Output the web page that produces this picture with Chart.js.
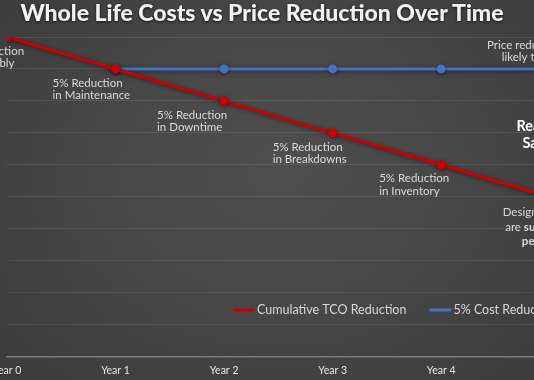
<!DOCTYPE html>
<html>
<head>
<meta charset="utf-8">
<script src="https://cdn.jsdelivr.net/npm/chart.js@4.4.0/dist/chart.umd.min.js"></script>
<style>
html, body { margin: 0; padding: 0; }
body {
    width: 534px; height: 380px; overflow: hidden; position: relative;
    background: radial-gradient(ellipse 75% 85% at 52% 45%, #4e4e4e 0%, #474747 45%, #3a3a3a 100%);
    font-family: Lato, sans-serif;
}
#title {
    position: absolute; top: -1px; left: 0; width: 524px; text-align: center;
    color: #f2f2f2; font-weight: 900; font-size: 23px; line-height: 26px;
    text-shadow: 0 1px 3px rgba(0,0,0,0.7);
    z-index: 2;
}
#wrap { position: absolute; left: -100px; top: 0; width: 734px; height: 388px; }
</style>
</head>
<body>
<div id="title">Whole Life Costs vs Price Reduction Over Time</div>
<div id="wrap"><canvas id="chart"></canvas></div>
<script>
// données
var years = ['Year 0', 'Year 1', 'Year 2', 'Year 3', 'Year 4', 'Year 5'];
var tcoReduction = [10, 9, 8, 7, 6, 5];
var costReduction = [null, 9, 9, 9, 9, 9];
var seriesNames = ['Cumulative TCO Reduction', '5% Cost Reduction'];
var pointNotes = [
    ['5% Reduction', 'in Assembly'],
    ['5% Reduction', 'in Maintenance'],
    ['5% Reduction', 'in Downtime'],
    ['5% Reduction', 'in Breakdowns'],
    ['5% Reduction', 'in Inventory']
];
var priceNote = ['Price reduction gains', 'likely to be lost'];
var savingsNote = ['Real Cost', 'Savings'];
var designNote = ['Design efficiencies', 'are *sustained and*', '*permanent*'];

var RED = '#cc0000';
var BLUE = '#4472c4';

function toPoints(values) {
    return values.map(function(v, i) { return { x: i, y: v }; });
}

// ombre sous les lignes
var shadowPlugin = {
    id: 'shadow',
    beforeDatasetsDraw: function(chart) {
        var ctx = chart.ctx;
        ctx.save();
        ctx.shadowColor = 'rgba(0,0,0,0.5)';
        ctx.shadowBlur = 4;
        ctx.shadowOffsetY = 1;
    },
    afterDatasetsDraw: function(chart) {
        chart.ctx.restore();
    }
};

function drawRich(ctx, text, x, y, align, size) {
    // *texte* = gras
    var parts = text.split('*');
    var total = 0;
    parts.forEach(function(p, k) {
        ctx.font = (k % 2 ? 'bold ' : '') + size + 'px Lato';
        total += ctx.measureText(p).width;
    });
    var cx = align === 'center' ? x - total / 2 : x;
    ctx.textAlign = 'left';
    parts.forEach(function(p, k) {
        ctx.font = (k % 2 ? 'bold ' : '') + size + 'px Lato';
        ctx.fillText(p, cx, y);
        cx += ctx.measureText(p).width;
    });
}

var notesPlugin = {
    id: 'notes',
    afterDatasetsDraw: function(chart) {
        var ctx = chart.ctx;
        var xs = chart.scales.x, ys = chart.scales.y;
        var red = chart.getDatasetMeta(0).data;
        var blue = chart.getDatasetMeta(1).data;
        var dx = [-53, -63, -67, -60, -62];
        ctx.save();
        ctx.textBaseline = 'middle';
        ctx.fillStyle = '#dadada';
        pointNotes.forEach(function(lines, i) {
            var p = red[i];
            lines.forEach(function(t, k) {
                drawRich(ctx, t, p.x + dx[i], p.y + 14 + k * 12.5, 'left', 11.5);
            });
        });
        var b = blue[5];
        priceNote.forEach(function(t, k) {
            drawRich(ctx, t, b.x - 10, b.y - 24 + k * 12, 'center', 11.5);
        });
        ctx.fillStyle = '#ffffff';
        var sx = xs.getPixelForValue(5);
        savingsNote.forEach(function(t, k) {
            drawRich(ctx, '*' + t + '*', sx - 3, ys.getPixelForValue(7.2) + k * 17, 'center', 14.5);
        });
        ctx.fillStyle = '#dadada';
        designNote.forEach(function(t, k) {
            drawRich(ctx, t, sx, ys.getPixelForValue(4.5) + k * 14.5, 'center', 11.5);
        });
        ctx.restore();
    }
};

var legendPlugin = {
    id: 'innerLegend',
    afterDraw: function(chart) {
        var ctx = chart.ctx;
        var x = 333, y = 310;
        ctx.save();
        ctx.font = '12.5px Lato';
        ctx.textBaseline = 'middle';
        ctx.textAlign = 'left';
        chart.data.datasets.forEach(function(ds) {
            ctx.strokeStyle = ds.borderColor;
            ctx.lineWidth = 3;
            ctx.beginPath();
            ctx.moveTo(x, y);
            ctx.lineTo(x + 22, y);
            ctx.stroke();
            ctx.fillStyle = '#d6d6d6';
            ctx.fillText(ds.label, x + 24, y);
            x += 24 + ctx.measureText(ds.label).width + 23;
        });
        ctx.restore();
    }
};

var chart = new Chart(document.getElementById('chart'), {
    type: 'line',
    data: {
        datasets: [{
            label: seriesNames[0],
            data: toPoints(tcoReduction),
            borderColor: RED,
            backgroundColor: RED,
            borderWidth: 3,
            pointRadius: 4.5,
            pointBorderWidth: 0
        }, {
            label: seriesNames[1],
            data: toPoints(costReduction),
            borderColor: BLUE,
            backgroundColor: BLUE,
            borderWidth: 3,
            pointRadius: 4.5,
            pointBorderWidth: 0
        }]
    },
    options: {
        responsive: true,
        maintainAspectRatio: false,
        animation: false,
        layout: { padding: { left: 107, top: 37, right: 30, bottom: 3 } },
        plugins: {
            legend: { display: false },
            tooltip: { enabled: false }
        },
        scales: {
            x: {
                type: 'linear',
                min: 0,
                max: 5.5,
                afterBuildTicks: function(axis) {
                    axis.ticks = years.map(function(y, i) { return { value: i }; });
                },
                ticks: {
                    color: '#e4e4e4',
                    font: { family: 'Lato', size: 10.5 },
                    padding: 8,
                    maxRotation: 0,
                    autoSkip: false,
                    callback: function(v) { return years[v]; }
                },
                grid: { display: false, drawTicks: false },
                border: { display: true, color: '#7a7a7a', width: 1.5 }
            },
            y: {
                min: 0,
                max: 10,
                ticks: { display: false, stepSize: 1 },
                grid: { color: 'rgba(255,255,255,0.09)', drawTicks: false },
                border: { display: false }
            }
        }
    },
    plugins: [shadowPlugin, notesPlugin, legendPlugin]
});
</script>
</body>
</html>
